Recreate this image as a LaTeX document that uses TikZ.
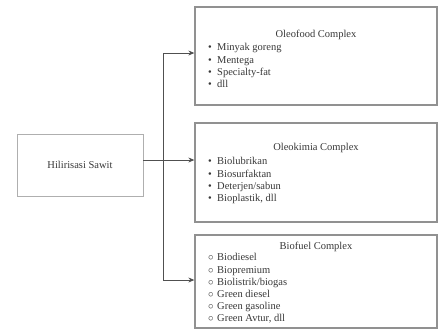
\documentclass[tikz,border=0pt]{standalone}
\usepackage{fontspec}
\setmainfont{Liberation Serif}
\usetikzlibrary{arrows.meta}

\definecolor{boxgray}{RGB}{145,145,145}
\definecolor{lightgray}{RGB}{175,175,175}
\definecolor{txtgray}{RGB}{55,55,55}
\definecolor{linegray}{RGB}{80,80,80}

\newcommand{\bul}[1]{\makebox[9pt][l]{\textbullet}#1}
\newcommand{\cir}[1]{\makebox[9pt][l]{$\circ$}#1}

\tikzset{
  complexbox/.style={draw=boxgray, line width=1.3pt, minimum width=242pt},
  hilirbox/.style={draw=lightgray, line width=0.9pt, minimum width=126pt, minimum height=62pt},
  boxtitle/.style={inner sep=0pt},
  itemlist/.style={anchor=north west, align=left, inner sep=0pt},
  link/.style={draw=linegray, line width=0.9pt},
  arrowlink/.style={link, -{Stealth[length=6pt,width=5pt]}}
}

\begin{document}
\begin{tikzpicture}[x=1pt, y=-1pt, font=\fontsize{10.5}{12.2}\selectfont, text=txtgray]
            \def\xv{163}
            \def\xc{316}
            \def\xi{208}

            \def\ya{53}
            \def\yb{160}
            \def\yc{280}

            \useasboundingbox (0,0) rectangle (446,330);

            \node[hilirbox] (hilir) at (80,165) {Hilirisasi Sawit};

            \node[complexbox, minimum height=98pt] (oleofood) at (\xc,56) {};
            \node[complexbox, minimum height=99pt] (oleokimia) at (\xc,172.5) {};
            \node[complexbox, minimum height=93pt] (biofuel) at (\xc,281.5) {};

            \node[boxtitle] (oftitle) at (\xc,35) {Oleofood Complex};
            \node[itemlist] (ofitems) at (\xi,43.5) {\bul{Minyak goreng}\\ \bul{Mentega}\\ \bul{Specialty-fat}\\ \bul{dll}};

            \node[boxtitle] (oktitle) at (\xc,148) {Oleokimia Complex};
            \node[itemlist] (okitems) at (\xi,157.5) {\bul{Biolubrikan}\\ \bul{Biosurfaktan}\\ \bul{Deterjen/sabun}\\ \bul{Bioplastik, dll}};

            \node[boxtitle] (bftitle) at (\xc,247) {Biofuel Complex};
            \node[itemlist] (bfitems) at (\xi,253.5) {\cir{Biodiesel}\\ \cir{Biopremium}\\ \cir{Biolistrik/biogas}\\ \cir{Green diesel}\\ \cir{Green gasoline}\\ \cir{Green Avtur, dll}};

            \coordinate (jtop) at (\xv,\ya);
            \coordinate (jmid) at (\xv,\yb);
            \coordinate (jbot) at (\xv,\yc);

            \draw[link] ([yshift=5pt]hilir.east) -- (jmid);
            \draw[link] (jtop) -- (jbot);

            \draw[arrowlink] (jtop) -- (jtop -| oleofood.west);
            \draw[arrowlink] (jmid) -- (jmid -| oleokimia.west);
            \draw[arrowlink] (jbot) -- (jbot -| biofuel.west);

        \end{tikzpicture}
\end{document}
